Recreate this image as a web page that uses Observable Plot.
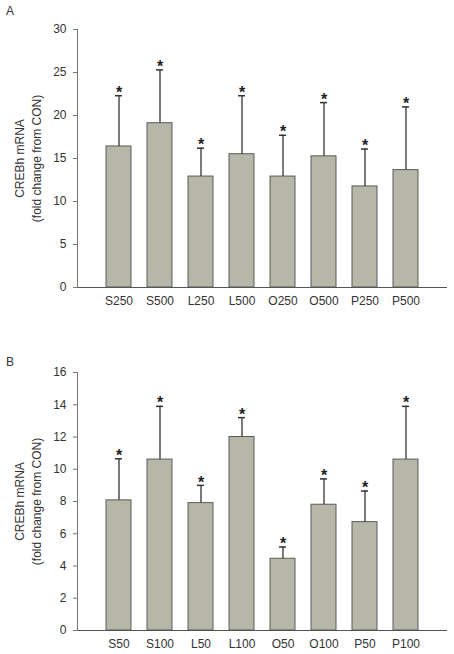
<!DOCTYPE html>
<html>
<head>
<meta charset="utf-8">
<script src="https://cdn.jsdelivr.net/npm/d3@7"></script>
<script src="https://cdn.jsdelivr.net/npm/@observablehq/plot@0.6"></script>
<style>
  html, body { margin: 0; padding: 0; background: #fff; }
  #wrap { position: relative; width: 454px; height: 654px; font-family: "Liberation Sans", Arial, sans-serif; color: #333; }
  .letter { position: absolute; left: 6px; font-size: 12px; line-height: 12px; z-index: 2; }
  .panel { position: absolute; left: 0; z-index: 1; }
  .panel svg { display: block; }
</style>
</head>
<body>
<div id="wrap">
  <div id="pa" class="panel" style="top:0px"></div>
  <div id="pb" class="panel" style="top:320px"></div>
  <div class="letter" style="top:5px">A</div>
  <div class="letter" style="top:356px">B</div>
</div>
<script>
// Panel A data
const catsA = ["S250", "S500", "L250", "L500", "O250", "O500", "P250", "P500"];
const meansA = [16.4, 19.1, 12.9, 15.5, 12.9, 15.25, 11.75, 13.65];
const errTopA = [22.3, 25.3, 16.2, 22.3, 17.7, 21.5, 16.1, 21.0];
const yTicksA = [0, 5, 10, 15, 20, 25, 30];

// Panel B data
const catsB = ["S50", "S100", "L50", "L100", "O50", "O100", "P50", "P100"];
const meansB = [8.07, 10.6, 7.9, 12.0, 4.45, 7.8, 6.72, 10.6];
const errTopB = [10.65, 13.9, 9.0, 13.2, 5.18, 9.4, 8.65, 13.9];
const yTicksB = [0, 2, 4, 6, 8, 10, 12, 14, 16];

const yLabel = "CREBh mRNA\n(fold change from CON)";

function panel(cats, means, tops, ticks, height, mt, mb) {
  const data = cats.map((c, i) => ({c, m: means[i], e: tops[i]}));
  return Plot.plot({
    width: 454,
    height,
    marginLeft: 77,
    marginRight: 7,
    marginTop: mt,
    marginBottom: mb,
    style: {fontFamily: '"Liberation Sans", Arial, sans-serif', fontSize: "12px", color: "#333", background: "white"},
    x: {domain: cats, paddingInner: 0.39, paddingOuter: 0.695},
    y: {domain: [ticks[0], ticks[ticks.length - 1]]},
    marks: [
      Plot.barY(data, {x: "c", y: "m", fill: "#b6b6a9", stroke: "#5a5a5a", strokeWidth: 1}),
      Plot.ruleX(data, {x: "c", y1: "m", y2: "e", stroke: "#333", strokeWidth: 1.3}),
      Plot.tickY(data, {x: "c", y: "e", insetLeft: 9, insetRight: 9, stroke: "#333", strokeWidth: 1.5}),
      Plot.text(data, {x: "c", y: "e", text: () => "*", dy: -3, fontSize: 16, fontWeight: "bold", fill: "#222"}),
      Plot.ruleY([0], {stroke: "#555"}),
      Plot.frame({anchor: "left", stroke: "#777"}),
      Plot.axisY({ticks, tickSize: 4, tickPadding: 7, label: null, stroke: "#777", fontSize: 12, fill: "#333"}),
      Plot.axisX({tickSize: 0, tickPadding: 8.5, label: null, fontSize: 12, fill: "#333"}),
      Plot.text([yLabel], {frameAnchor: "left", textAnchor: "middle", lineAnchor: "middle", rotate: -90, dx: -50, lineHeight: 1.42, fontSize: 12, fill: "#333"})
    ]
  });
}

document.getElementById("pa").append(panel(catsA, meansA, errTopA, yTicksA, 320, 29, 33));
document.getElementById("pb").append(panel(catsB, meansB, errTopB, yTicksB, 334, 52, 24));
</script>
</body>
</html>
